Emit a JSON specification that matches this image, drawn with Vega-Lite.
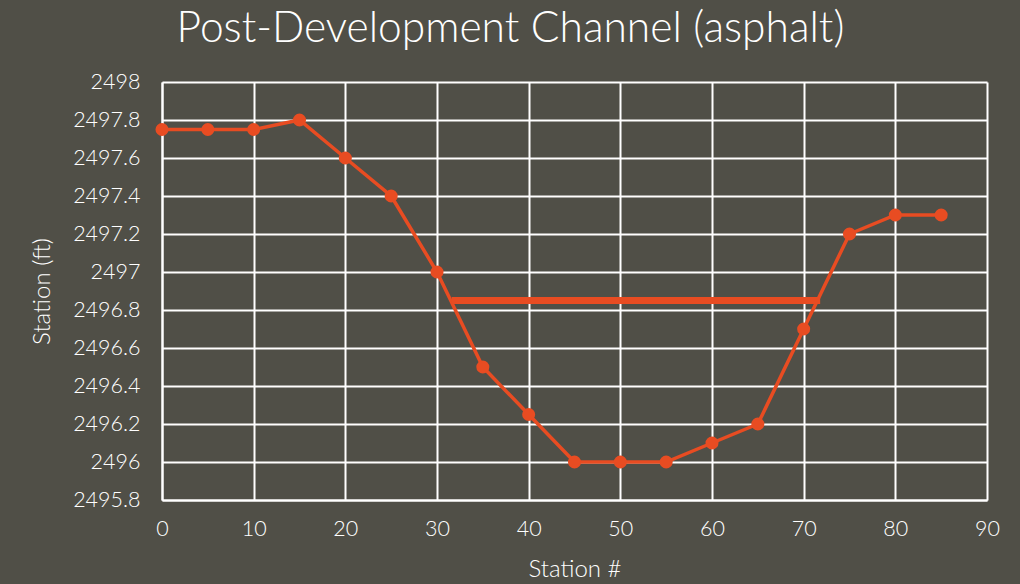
{
  "$schema": "https://vega.github.io/schema/vega-lite/v6.json",
  "width": 825,
  "height": 418,
  "autosize": {"type": "none"},
  "padding": {"left": 162, "top": 82, "right": 33, "bottom": 84},
  "background": "#504f47",
  "title": {
    "text": "Post-Development Channel (asphalt)",
    "fontSize": 42.5,
    "font": "Lato",
    "fontWeight": 300,
    "color": "#ffffff",
    "anchor": "middle",
    "dx": -64,
    "offset": 21
  },
  "config": {
    "view": {"stroke": null},
    "axis": {
      "labelFont": "Lato",
      "titleFont": "Lato",
      "labelColor": "#ffffff",
      "titleColor": "#ffffff",
      "labelFontSize": 21.5,
      "labelFontWeight": 300,
      "titleFontSize": 24,
      "titleFontWeight": 300,
      "gridColor": "#ffffff",
      "gridWidth": 2,
      "gridOpacity": 1,
      "domainColor": "#ffffff",
      "domainWidth": 2,
      "ticks": false,
      "labelOverlap": false,
      "labelFlush": false
    }
  },
  "datasets": {
    "profile": [
      {"station": 0, "elev": 2497.75},
      {"station": 5, "elev": 2497.75},
      {"station": 10, "elev": 2497.75},
      {"station": 15, "elev": 2497.8},
      {"station": 20, "elev": 2497.6},
      {"station": 25, "elev": 2497.4},
      {"station": 30, "elev": 2497.0},
      {"station": 35, "elev": 2496.5},
      {"station": 40, "elev": 2496.25},
      {"station": 45, "elev": 2496.0},
      {"station": 50, "elev": 2496.0},
      {"station": 55, "elev": 2496.0},
      {"station": 60, "elev": 2496.1},
      {"station": 65, "elev": 2496.2},
      {"station": 70, "elev": 2496.7},
      {"station": 75, "elev": 2497.2},
      {"station": 80, "elev": 2497.3},
      {"station": 85, "elev": 2497.3}
    ],
    "water": [
      {"station": 31.6, "elev": 2496.85},
      {"station": 71.8, "elev": 2496.85}
    ]
  },
  "encoding": {
    "x": {
      "field": "station", "type": "quantitative",
      "scale": {"domain": [0, 90], "nice": false},
      "axis": {"values": [0, 10, 20, 30, 40, 50, 60, 70, 80, 90], "format": "d", "title": "Station #", "labelPadding": 18, "titlePadding": 18, "labelFlush": false}
    },
    "y": {
      "field": "elev", "type": "quantitative",
      "scale": {"domain": [2495.8, 2498], "nice": false, "zero": false},
      "axis": {"values": [2495.8, 2496, 2496.2, 2496.4, 2496.6, 2496.8, 2497, 2497.2, 2497.4, 2497.6, 2497.8, 2498], "tickCount": 12, "format": "~f", "title": "Station (ft)", "labelPadding": 22, "titlePadding": 18, "labelOverlap": false, "labelFlush": false}
    }
  },
  "layer": [
    {
      "data": {"name": "profile"},
      "mark": {"type": "line", "color": "#e84c22", "strokeWidth": 3.5, "point": {"filled": true, "size": 170, "color": "#e84c22", "opacity": 1}}
    },
    {
      "data": {"name": "water"},
      "mark": {"type": "line", "color": "#e84c22", "strokeWidth": 7}
    }
  ]
}
